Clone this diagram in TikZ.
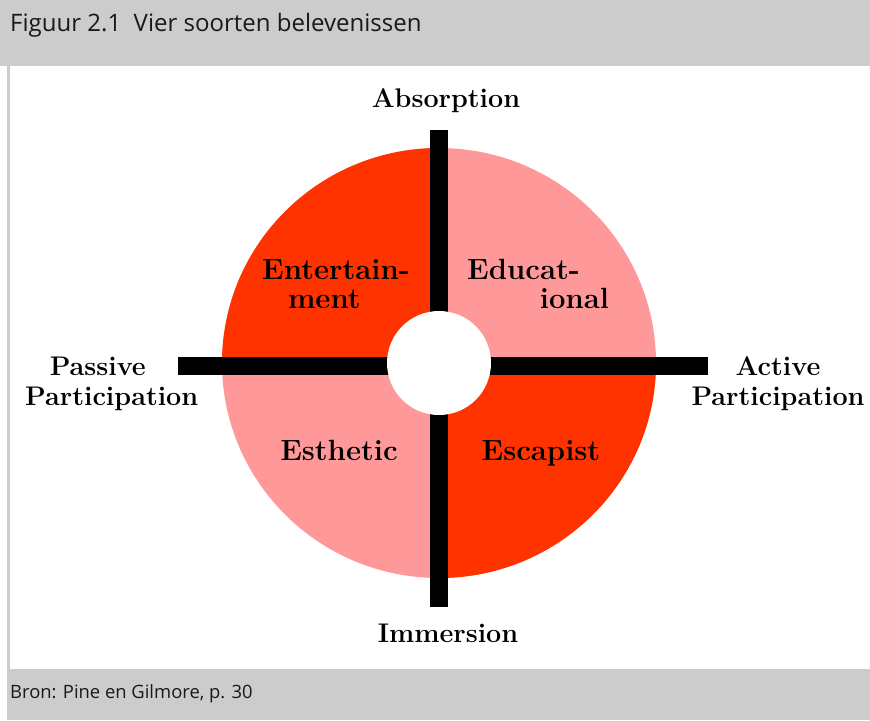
\documentclass[tikz,border=0pt]{standalone}
\usepackage{fontspec}
\newfontfamily\capfont{Open Sans}
\usetikzlibrary{positioning}

\definecolor{capgray}{HTML}{CCCCCC}
\definecolor{hotred}{HTML}{FF3300}
\definecolor{softpink}{HTML}{FF9999}

\tikzset{
  axislbl/.style={font=\fontsize{23}{25.6}\selectfont\bfseries, align=center, inner sep=0pt},
  quadlbl/.style={font=\fontsize{25}{24}\selectfont\bfseries, align=left, inner sep=0pt},
  caplbl/.style={font=\capfont\fontsize{20.5}{24}\selectfont, text=black!90, anchor=base west, inner sep=0pt},
}

\begin{document}
\begin{tikzpicture}[x=0.03cm, y=-0.03cm]
    \useasboundingbox (0,0) rectangle (870,720);

    % Caption bars
    \fill[capgray] (0,0) rectangle (870,66);
    \fill[capgray] (7,66) rectangle (10,669);
    \fill[capgray] (7,669) rectangle (870,720);
    \node[caplbl] (title) at (10,31) {Figuur 2.1\ \ Vier soorten belevenissen};
    \node[caplbl, font=\capfont\fontsize{15.7}{18}\selectfont] (source) at (10,698) {Bron: Pine en Gilmore, p. 30};

    % Quadrants
    \coordinate (ctr) at (439,363);
    \begin{scope}
        \clip (ctr) ellipse [x radius=217, y radius=215];
        \fill[softpink] (ctr) ++(-220,-220) rectangle ++(440,440);
        \fill[hotred] (ctr) rectangle ++(-220,-220);
        \fill[hotred] (ctr) rectangle ++(220,220);
    \end{scope}

    % Axes
    \fill[black] (430,130) rectangle (448,607);
    \fill[black] (178,357) rectangle (708,375);
    \fill[white] (ctr) circle [radius=52];

    % Axis labels (base = last line)
    \node[axislbl, anchor=base] (absorption) at (446,107) {Absorption};
    \node[axislbl, anchor=base] (immersion) at (448,642) {Immersion};
    \node[axislbl, anchor=base west, align=left] (passive) at (25,405) {\hspace{21pt}Passive\\Participation};
    \node[axislbl, anchor=base] (active) at (778,405) {Active\\Participation};

    % Quadrant labels
    \node[quadlbl, anchor=base west] (entertain) at (262,308) {Entertain-\\\hspace{22pt}ment};
    \node[quadlbl, anchor=base west] (educat) at (467,308) {Educat-\\\hspace{62pt}ional};
    \node[quadlbl, anchor=base] (esthetic) at (339,460) {Esthetic};
    \node[quadlbl, anchor=base] (escapist) at (541,460) {Escapist};
\end{tikzpicture}
\end{document}
